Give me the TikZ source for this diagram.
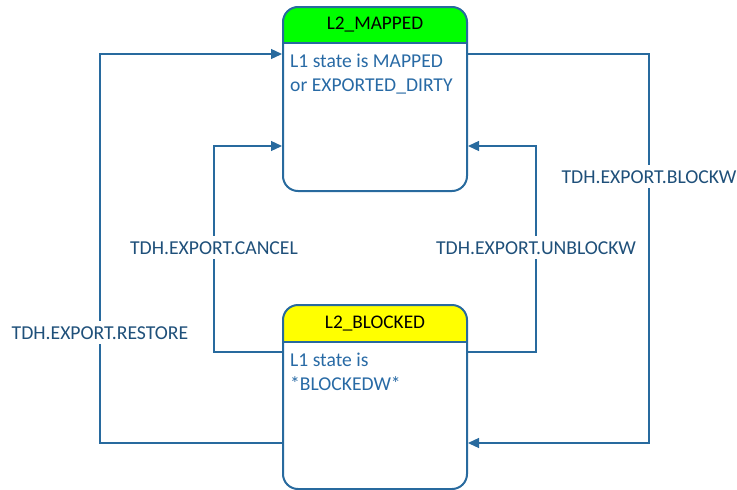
\documentclass[tikz,border=0pt]{standalone}
\usepackage{fontspec}
\setmainfont{Carlito}
\usetikzlibrary{arrows.meta}
\definecolor{ln}{RGB}{40,106,158}
\definecolor{lbl}{RGB}{31,80,122}
\definecolor{txt}{RGB}{40,106,165}
\definecolor{hgreen}{RGB}{0,255,0}
\definecolor{hyellow}{RGB}{255,255,0}
\tikzset{
 statebox/.style={draw=ln, line width=2pt, rounded corners=15pt, minimum width=184pt, minimum height=184pt, inner sep=0pt},
 hdr/.style={font=\fontsize{19.3}{23}\selectfont, text=black, inner sep=0pt},
 bodytxt/.style={font=\fontsize{19.6}{23}\selectfont, text=txt, anchor=base west, inner sep=0pt},
 conn/.style={draw=ln, line width=1.3pt, -{Triangle[length=11pt,width=10pt]}},
 lab/.style={font=\fontsize{19.7}{23}\selectfont, text=lbl, fill=white, anchor=base, inner xsep=1pt, inner ysep=5pt}
}
\begin{document}
\begin{tikzpicture}[x=1pt,y=-1pt]
\useasboundingbox (0,0) rectangle (737,490);
% top state
\begin{scope}
\clip[rounded corners=15pt] (283,7) rectangle (467,191);
\fill[hgreen] (283,7) rectangle (467,43);
\end{scope}
\node[statebox] (m) at (375,99) {};
\draw[ln, line width=2pt] (m.west |- 0,43) -- (m.east |- 0,43);
\node[hdr] (mh) at (375,25) {L2\_MAPPED};
\node[bodytxt] (m1) at (290,67) {L1 state is MAPPED};
\node[bodytxt] (m2) at (290,91) {or EXPORTED\_DIRTY};
% bottom state
\begin{scope}
\clip[rounded corners=15pt] (283,305) rectangle (467,489);
\fill[hyellow] (283,305) rectangle (467,342);
\end{scope}
\node[statebox] (b) at (375,397) {};
\draw[ln, line width=2pt] (b.west |- 0,342) -- (b.east |- 0,342);
\node[hdr] (bh) at (375,324) {L2\_BLOCKED};
\node[bodytxt] (b1) at (290,366) {L1 state is};
\node[bodytxt] (b2) at (290,390) {*BLOCKEDW*};
% connectors
\coordinate (r1) at (100,443);
\coordinate (r2) at (100,54);
\coordinate (c1) at (214,352);
\coordinate (c2) at (214,146);
\coordinate (u1) at (536,352);
\coordinate (u2) at (536,146);
\coordinate (w1) at (649,54);
\coordinate (w2) at (649,443);
\draw[conn] (b.west |- r1) -- (r1) -- (r2) -- (m.west |- r2);
\draw[conn] (b.west |- c1) -- (c1) -- (c2) -- (m.west |- c2);
\draw[conn] (b.east |- u1) -- (u1) -- (u2) -- (m.east |- u2);
\draw[conn] (m.east |- w1) -- (w1) -- (w2) -- (b.east |- w2);
% labels
\node[lab] (lr) at (100,339) {TDH.EXPORT.RESTORE};
\node[lab] (lc) at (214,254) {TDH.EXPORT.CANCEL};
\node[lab] (lu) at (536,254) {TDH.EXPORT.UNBLOCKW};
\node[lab] (lw) at (649,183) {TDH.EXPORT.BLOCKW};
\end{tikzpicture}
\end{document}
